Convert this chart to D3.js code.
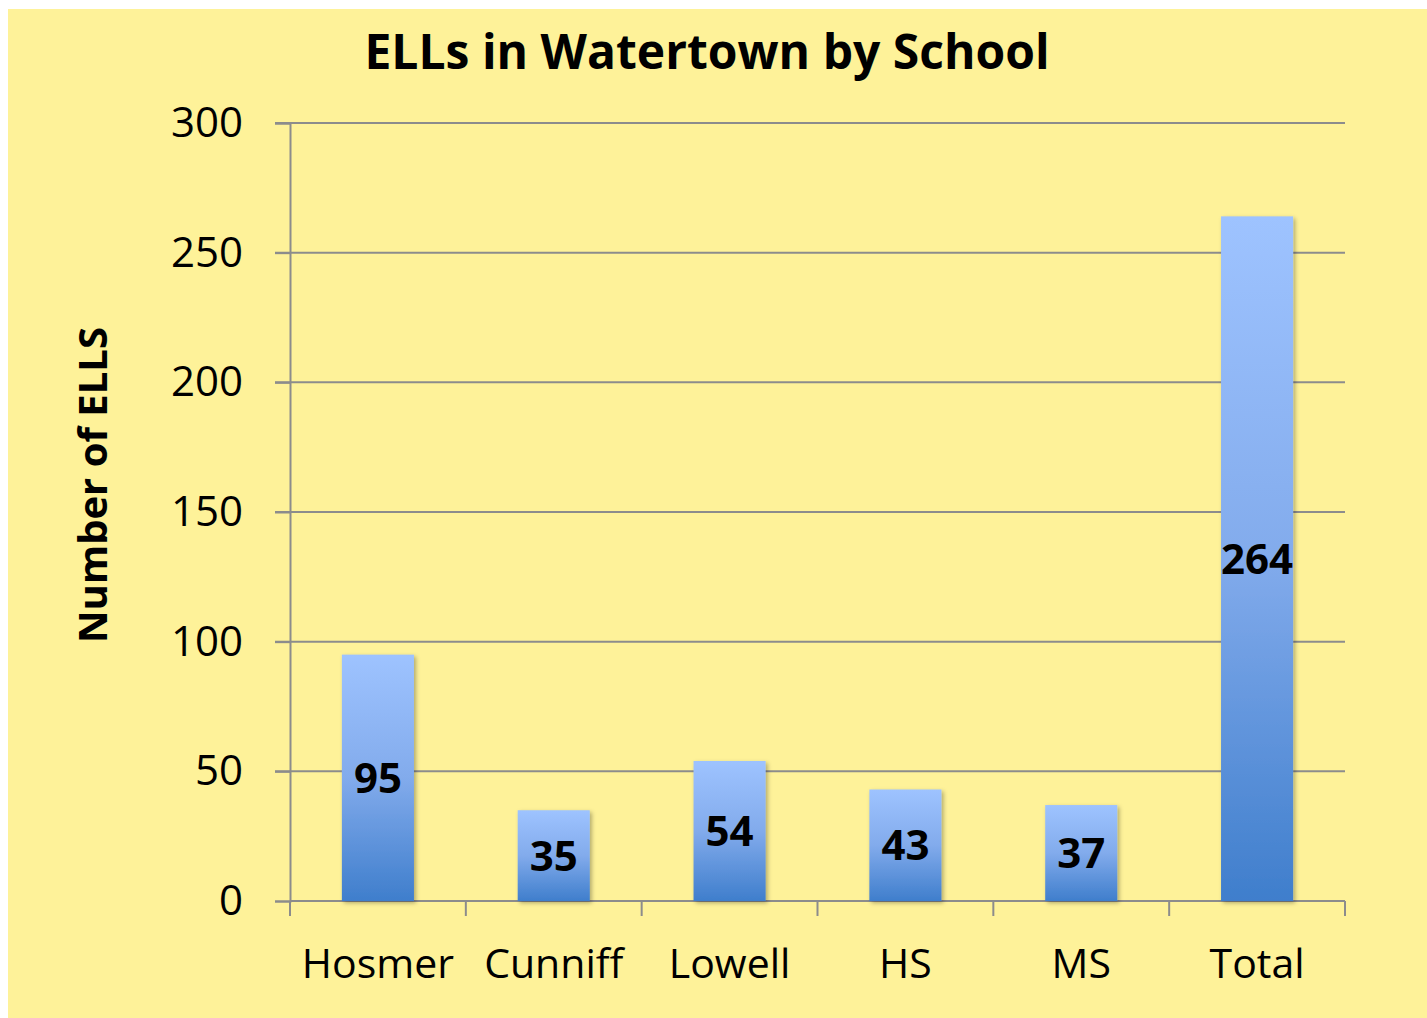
<!DOCTYPE html>
<html>
<head>
<meta charset="utf-8">
<script src="https://cdn.jsdelivr.net/npm/d3@7"></script>
<style>
  body { margin: 0; background: #fff; }
  svg text { font-family: "Open Sans", "Noto Sans", sans-serif; }
</style>
</head>
<body>
<svg id="chart"></svg>
<script>
const schools = ["Hosmer", "Cunniff", "Lowell", "HS", "MS", "Total"];
const ellCounts = [95, 35, 54, 43, 37, 264];
const yTicks = [0, 50, 100, 150, 200, 250, 300];

const width = 1427, height = 1018;
const margin = { top: 123, right: 82, bottom: 117, left: 290 };

const svg = d3.select("#chart").attr("width", width).attr("height", height);

const defs = svg.append("defs");
const grad = defs.append("linearGradient")
  .attr("id", "barGrad").attr("x1", 0).attr("y1", 0).attr("x2", 0).attr("y2", 1);
grad.append("stop").attr("offset", "0%").attr("stop-color", "#9ec3ff");
grad.append("stop").attr("offset", "50%").attr("stop-color", "#82abec");
grad.append("stop").attr("offset", "100%").attr("stop-color", "#3f7ecc");

const shadow = defs.append("filter").attr("id", "shadow")
  .attr("x", "-20%").attr("y", "-5%").attr("width", "150%").attr("height", "120%");
shadow.append("feDropShadow").attr("dx", 2).attr("dy", 2).attr("stdDeviation", 2)
  .attr("flood-color", "#000").attr("flood-opacity", 0.3);

// yellow chart area
svg.append("rect").attr("x", 8).attr("y", 9)
  .attr("width", width - 8).attr("height", height - 9)
  .attr("fill", "#fef299");

const x = d3.scaleBand().domain(schools)
  .range([margin.left, width - margin.right]).paddingInner(0.59).paddingOuter(0.295);
const y = d3.scaleLinear().domain([0, 300]).range([height - margin.bottom, margin.top]);

// gridlines
svg.append("g").selectAll("line").data(yTicks.slice(1)).join("line")
  .attr("x1", margin.left - 15).attr("x2", width - margin.right)
  .attr("y1", d => y(d)).attr("y2", d => y(d))
  .attr("stroke", "#8c8c8c").attr("stroke-width", 2);

// y axis
const yAxis = svg.append("g")
  .attr("transform", `translate(${margin.left},0)`)
  .call(d3.axisLeft(y).tickValues(yTicks).tickSize(15).tickPadding(32));
yAxis.select(".domain").attr("stroke", "#8c8c8c").attr("stroke-width", 2);
yAxis.selectAll(".tick line").attr("stroke", "#8c8c8c").attr("stroke-width", 2);
yAxis.selectAll(".tick text").attr("font-size", 42).attr("fill", "#000")
  .attr("font-family", "Open Sans");

// x axis with tick marks at band boundaries
const xAxis = svg.append("g")
  .attr("transform", `translate(0,${y(0)})`);
xAxis.append("line").attr("x1", margin.left).attr("x2", width - margin.right)
  .attr("stroke", "#8c8c8c").attr("stroke-width", 2);
const step = x.step();
const bounds = d3.range(schools.length + 1).map(i => margin.left + i * step);
xAxis.selectAll(".xt").data(bounds).join("line").attr("class", "xt")
  .attr("x1", d => d).attr("x2", d => d).attr("y1", 0).attr("y2", 15)
  .attr("stroke", "#8c8c8c").attr("stroke-width", 2);
xAxis.selectAll(".xl").data(schools).join("text").attr("class", "xl")
  .attr("x", d => x(d) + x.bandwidth() / 2).attr("y", 77)
  .attr("text-anchor", "middle").attr("font-size", 41).attr("fill", "#000")
  .text(d => d);

// bars
const data = schools.map((s, i) => ({ school: s, value: ellCounts[i] }));
svg.append("g").selectAll("rect").data(data).join("rect")
  .attr("x", d => x(d.school)).attr("width", x.bandwidth())
  .attr("y", d => y(d.value)).attr("height", d => y(0) - y(d.value))
  .attr("fill", "url(#barGrad)").attr("filter", "url(#shadow)");

// value labels
svg.append("g").selectAll("text").data(data).join("text")
  .attr("x", d => x(d.school) + x.bandwidth() / 2)
  .attr("y", d => (y(d.value) + y(0)) / 2)
  .attr("dy", "0.36em")
  .attr("text-anchor", "middle").attr("font-size", 42).attr("font-weight", 700)
  .attr("fill", "#000").text(d => d.value);

// title
svg.append("text").attr("x", 707).attr("y", 69).attr("text-anchor", "middle")
  .attr("font-size", 48).attr("font-weight", 700).attr("fill", "#000")
  .text("ELLs in Watertown by School");

// y label
svg.append("text")
  .attr("transform", `translate(107,${485}) rotate(-90)`)
  .attr("text-anchor", "middle").attr("font-size", 40).attr("font-weight", 700)
  .attr("fill", "#000").text("Number of ELLS");
</script>
</body>
</html>
